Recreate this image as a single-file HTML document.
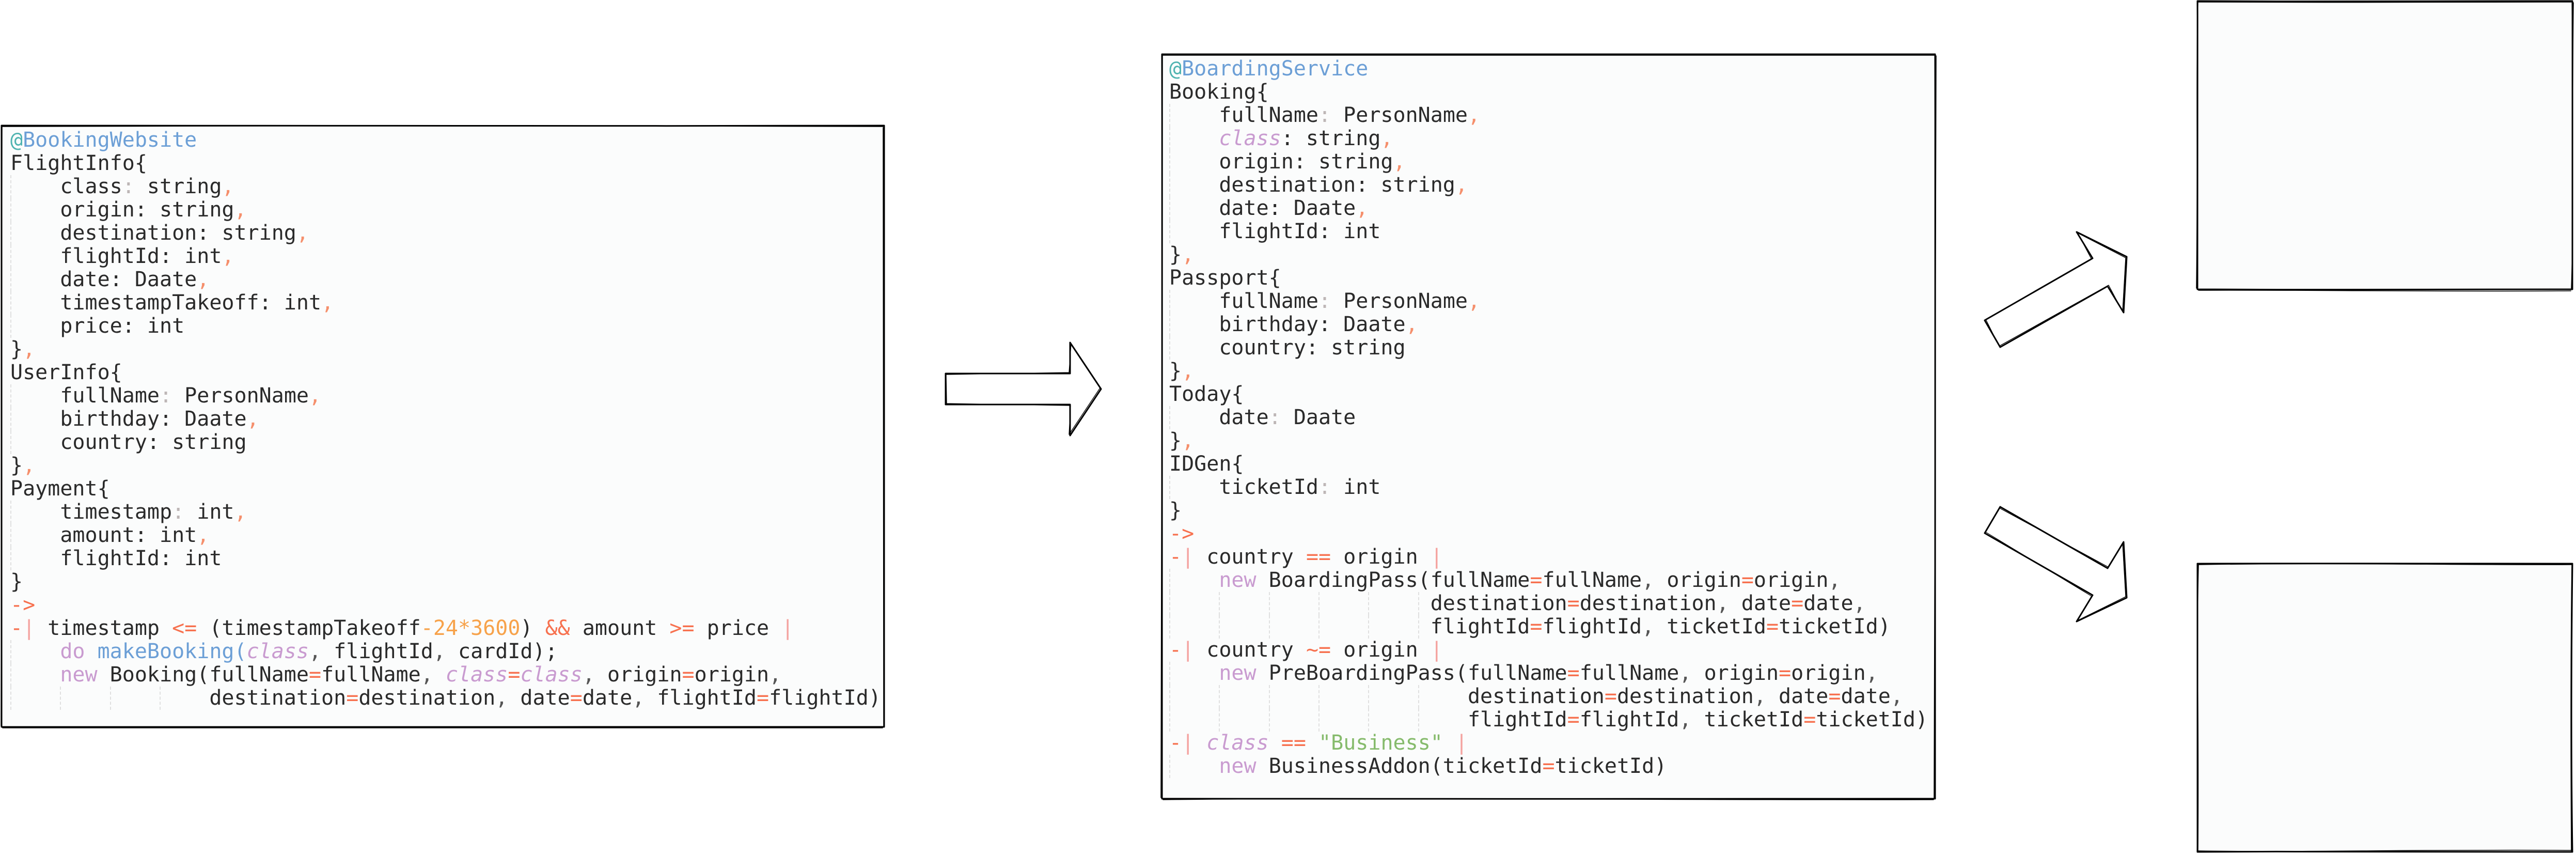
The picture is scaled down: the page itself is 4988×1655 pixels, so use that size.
<!DOCTYPE html>
<html>
<head>
<meta charset="utf-8">
<style>
html,body{margin:0;padding:0;}
body{width:4988px;height:1655px;background:#ffffff;position:relative;overflow:hidden;}
svg.bg{position:absolute;left:0;top:0;}
.code{position:absolute;font-family:"DejaVu Sans Mono","Liberation Mono",monospace;font-size:40px;line-height:45px;color:#2a2a2a;white-space:normal;}
.code div{height:45px;white-space:pre;}
.g{display:inline-block;width:4ch;height:45px;vertical-align:top;box-sizing:border-box;border-left:2px dashed #e0e0e0;}
.at{color:#4fb3b0;}
.an{color:#6c9fd6;}
.cm{color:#f58f6c;}
.lc{color:#bdb6b6;}
.op{color:#f7714f;}
.num{color:#f7a24a;}
.pp{color:#f4a3a0;}
.k{color:#c99bd0;}
.cls{color:#c99bd0;font-style:italic;}
.fn{color:#6c9fd6;}
.str{color:#86bb6c;}
.dk{color:#555;}
</style>
</head>
<body>
<svg class="bg" width="4988" height="1655" viewBox="0 0 4988 1655" xmlns="http://www.w3.org/2000/svg">
  <g fill="#fbfcfc" stroke="none">
    <rect x="3" y="243" width="1709" height="1164"/>
    <rect x="2250" y="105" width="1497" height="1441"/>
    <rect x="4255" y="2" width="726" height="558"/>
    <rect x="4255" y="1091" width="726" height="558"/>
  </g>
  <g fill="none" stroke="#000" stroke-linejoin="round" stroke-linecap="round">
    <path d="M3,243 C400,242 1100,245 1712,243 C1713,600 1711,1000 1712,1407 C1200,1406 600,1409 3,1407 C2,1000 4,600 3,243 Z" stroke-width="3"/>
    <path d="M4,245 C500,244 1200,241 1710,245 M1710,247 C1712,700 1714,1100 1711,1405 M1709,1409 C1000,1410 500,1405 5,1409 M2,1405 C3,900 1,500 4,246" stroke-width="1.5"/>
    <path d="M2250,105 C2700,104 3300,106 3747,105 C3748,600 3746,1100 3747,1546 C3300,1545 2700,1548 2250,1546 C2249,1100 2251,600 2250,105 Z" stroke-width="3"/>
    <path d="M2252,107 C2800,103 3300,108 3745,107 M3749,108 C3745,700 3750,1200 3745,1544 M3744,1548 C3200,1549 2700,1543 2252,1548 M2248,1544 C2251,1000 2248,500 2251,107" stroke-width="1.5"/>
    <path d="M4255,2 C4500,4 4750,1 4981,2 C4982,200 4980,400 4981,560 C4750,559 4500,562 4255,560 C4254,400 4256,200 4255,2 Z" stroke-width="3"/>
    <path d="M4257,4 C4500,6 4800,3 4979,4 M4983,5 C4980,250 4983,450 4979,558 M4978,563 C4700,565 4450,561 4257,562 M4253,558 C4256,300 4252,150 4256,5" stroke-width="1.5"/>
    <path d="M4255,1091 C4500,1090 4750,1092 4981,1091 C4979,1250 4978,1450 4981,1649 C4750,1647 4500,1648 4255,1649 C4256,1450 4254,1250 4255,1091 Z" stroke-width="3"/>
    <path d="M4257,1093 C4500,1089 4800,1094 4979,1093 M4980,1094 C4977,1300 4978,1500 4979,1647 M4978,1646 C4700,1644 4450,1650 4257,1647 M4256,1646 C4258,1400 4253,1250 4257,1094" stroke-width="1.5"/>
  </g>
  <g fill="#ffffff" stroke="#000" stroke-width="3" stroke-linejoin="round">
    <path d="M1831,723 L2072,723 L2072,663 L2132,753 L2072,843 L2072,783 L1831,783 Z"/>
    <path d="M3843,620 L4052,500 L4021,449 L4118,497 L4112,605 L4081,554 L3873,672 Z"/>
    <path d="M3873,981 L4081,1100 L4112,1049 L4118,1157 L4021,1203 L4052,1152 L3843,1032 Z"/>
  </g>
  <g fill="none" stroke="#000" stroke-width="1.3" stroke-linejoin="round">
    <path d="M1832,725 L2070,721 L2074,665 L2130,751 L2070,841 L2073,785 L1833,781 Z"/>
    <path d="M3845,618 L4050,502 L4023,451 L4116,499 L4110,603 L4083,552 L3871,670 Z"/>
    <path d="M3871,983 L4083,1098 L4110,1051 L4116,1155 L4023,1201 L4050,1154 L3845,1030 Z"/>
  </g>
</svg>

<div class="code" style="left:20px;top:249px;">
<div><span class="at">@</span><span class="an">BookingWebsite</span></div>
<div>FlightInfo{</div>
<div><span class="g"></span>class<span class="lc">:</span> string<span class="cm">,</span></div>
<div><span class="g"></span>origin: string<span class="cm">,</span></div>
<div><span class="g"></span>destination: string<span class="cm">,</span></div>
<div><span class="g"></span>flightId: int<span class="cm">,</span></div>
<div><span class="g"></span>date: Daate<span class="cm">,</span></div>
<div><span class="g"></span>timestampTakeoff: int<span class="cm">,</span></div>
<div><span class="g"></span>price: int</div>
<div>}<span class="cm">,</span></div>
<div>UserInfo{</div>
<div><span class="g"></span>fullName<span class="lc">:</span> PersonName<span class="cm">,</span></div>
<div><span class="g"></span>birthday: Daate<span class="cm">,</span></div>
<div><span class="g"></span>country: string</div>
<div>}<span class="cm">,</span></div>
<div>Payment{</div>
<div><span class="g"></span>timestamp<span class="lc">:</span> int<span class="cm">,</span></div>
<div><span class="g"></span>amount: int<span class="cm">,</span></div>
<div><span class="g"></span>flightId: int</div>
<div>}</div>
<div><span class="op">-&gt;</span></div>
<div><span class="op">-</span><span class="pp">|</span> timestamp <span class="op">&lt;=</span> (timestampTakeoff<span class="num">-24*3600</span>) <span class="op">&amp;&amp;</span> amount <span class="op">&gt;=</span> price <span class="pp">|</span></div>
<div><span class="g"></span><span class="k">do</span> <span class="fn">makeBooking(</span><span class="cls">class</span><span class="dk">,</span> flightId<span class="dk">,</span> cardId);</div>
<div><span class="g"></span><span class="k">new</span> Booking(fullName<span class="op">=</span>fullName<span class="dk">,</span> <span class="cls">class</span><span class="op">=</span><span class="cls">class</span><span class="dk">,</span> origin<span class="op">=</span>origin<span class="dk">,</span></div>
<div><span class="g"></span><span class="g"></span><span class="g"></span><span class="g"></span>destination<span class="op">=</span>destination<span class="dk">,</span> date<span class="op">=</span>date<span class="dk">,</span> flightId<span class="op">=</span>flightId)</div>
</div>

<div class="code" style="left:2264px;top:111px;">
<div><span class="at">@</span><span class="an">BoardingService</span></div>
<div>Booking{</div>
<div><span class="g"></span>fullName<span class="lc">:</span> PersonName<span class="cm">,</span></div>
<div><span class="g"></span><span class="cls">class</span>: string<span class="cm">,</span></div>
<div><span class="g"></span>origin: string<span class="cm">,</span></div>
<div><span class="g"></span>destination: string<span class="cm">,</span></div>
<div><span class="g"></span>date: Daate<span class="cm">,</span></div>
<div><span class="g"></span>flightId: int</div>
<div>}<span class="cm">,</span></div>
<div>Passport{</div>
<div><span class="g"></span>fullName<span class="lc">:</span> PersonName<span class="cm">,</span></div>
<div><span class="g"></span>birthday: Daate<span class="cm">,</span></div>
<div><span class="g"></span>country: string</div>
<div>}<span class="cm">,</span></div>
<div>Today{</div>
<div><span class="g"></span>date<span class="lc">:</span> Daate</div>
<div>}<span class="cm">,</span></div>
<div>IDGen{</div>
<div><span class="g"></span>ticketId<span class="lc">:</span> int</div>
<div>}</div>
<div><span class="op">-&gt;</span></div>
<div><span class="op">-</span><span class="pp">|</span> country <span class="op">==</span> origin <span class="pp">|</span></div>
<div><span class="g"></span><span class="k">new</span> BoardingPass(fullName<span class="op">=</span>fullName<span class="dk">,</span> origin<span class="op">=</span>origin<span class="dk">,</span></div>
<div><span class="g"></span><span class="g"></span><span class="g"></span><span class="g"></span><span class="g"></span><span class="g" style="width:1ch"></span>destination<span class="op">=</span>destination<span class="dk">,</span> date<span class="op">=</span>date<span class="dk">,</span></div>
<div><span class="g"></span><span class="g"></span><span class="g"></span><span class="g"></span><span class="g"></span><span class="g" style="width:1ch"></span>flightId<span class="op">=</span>flightId<span class="dk">,</span> ticketId<span class="op">=</span>ticketId)</div>
<div><span class="op">-</span><span class="pp">|</span> country <span class="op">~=</span> origin <span class="pp">|</span></div>
<div><span class="g"></span><span class="k">new</span> PreBoardingPass(fullName<span class="op">=</span>fullName<span class="dk">,</span> origin<span class="op">=</span>origin<span class="dk">,</span></div>
<div><span class="g"></span><span class="g"></span><span class="g"></span><span class="g"></span><span class="g"></span><span class="g"></span>destination<span class="op">=</span>destination<span class="dk">,</span> date<span class="op">=</span>date<span class="dk">,</span></div>
<div><span class="g"></span><span class="g"></span><span class="g"></span><span class="g"></span><span class="g"></span><span class="g"></span>flightId<span class="op">=</span>flightId<span class="dk">,</span> ticketId<span class="op">=</span>ticketId)</div>
<div><span class="op">-</span><span class="pp">|</span> <span class="cls">class</span> <span class="op">==</span> <span class="str">"Business"</span> <span class="pp">|</span></div>
<div><span class="g"></span><span class="k">new</span> BusinessAddon(ticketId<span class="op">=</span>ticketId)</div>
</div>
</body>
</html>
